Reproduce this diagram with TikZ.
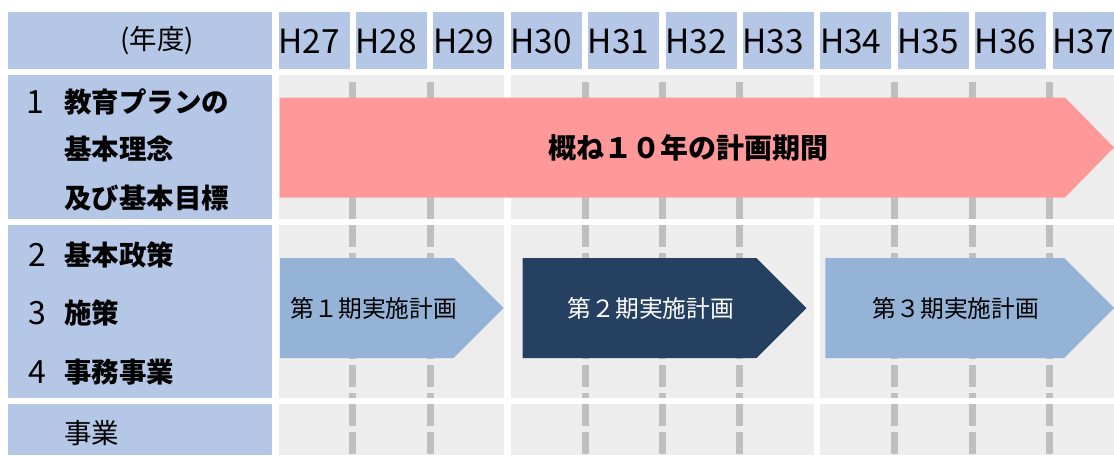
\documentclass[tikz,border=0pt]{standalone}
\usepackage{fontspec}
\setmainfont{Noto Sans CJK JP}
\usepackage{xcolor}
\usepackage{tikz}

\definecolor{headblue}{RGB}{180,199,231}
\definecolor{cellgray}{RGB}{237,237,237}
\definecolor{gridgray}{RGB}{191,191,191}
\definecolor{planred}{RGB}{255,153,153}
\definecolor{phaseblue}{RGB}{149,179,215}
\definecolor{phasenavy}{RGB}{37,64,97}

\begin{document}
\begin{tikzpicture}
[x=0.75pt,y=0.75pt,yscale=-1,xscale=1,
 headcell/.style={fill=headblue},
 graycell/.style={fill=cellgray},
 gridline/.style={draw=gridgray,line width=5.25pt},
 griddash/.style={gridline,dash pattern=on 16.5pt off 4.5pt},
 yearlbl/.style={font=\fontsize{25}{28}\selectfont,anchor=west,inner sep=0pt},
 rowlbl/.style={font=\fontsize{20.6}{24}\selectfont\bfseries,anchor=west,inner sep=0pt},
 rownum/.style={font=\fontsize{24}{27}\selectfont,inner sep=0pt},
 phasetext/.style={font=\fontsize{17.8}{21}\selectfont,inner sep=0pt}]
\useasboundingbox (0,0) rectangle (1114,455);

% header row
\fill [headcell] (8,12) rectangle (272,69);
\fill [headcell] (278.6,12) rectangle (349.6,69);
\fill [headcell] (356,12) rectangle (427,69);
\fill [headcell] (433.4,12) rectangle (504.4,69);
\fill [headcell] (510.8,12) rectangle (581.8,69);
\fill [headcell] (588.2,12) rectangle (659.2,69);
\fill [headcell] (665.6,12) rectangle (736.6,69);
\fill [headcell] (743,12) rectangle (814,69);
\fill [headcell] (820.4,12) rectangle (891.4,69);
\fill [headcell] (897.8,12) rectangle (968.8,69);
\fill [headcell] (975.2,12) rectangle (1046.2,69);
\fill [headcell] (1052.6,12) rectangle (1123.6,69);

% left column
\fill [headcell] (8,75) rectangle (272,219);
\fill [headcell] (8,225) rectangle (272,398);
\fill [headcell] (8,404) rectangle (272,455);

% period blocks
\fill [graycell] (278.6,75) rectangle (504.4,219);
\fill [graycell] (510.8,75) rectangle (814,219);
\fill [graycell] (820.4,75) rectangle (1114,219);
\fill [graycell] (278.6,225) rectangle (504.4,398);
\fill [graycell] (510.8,225) rectangle (814,398);
\fill [graycell] (820.4,225) rectangle (1114,398);
\fill [graycell] (278.6,404) rectangle (504.4,455);
\fill [graycell] (510.8,404) rectangle (814,455);
\fill [graycell] (820.4,404) rectangle (1114,455);

% year boundaries
\draw [gridline] (352.8,82) -- (352.8,219) (430.2,82) -- (430.2,219) (585,82) -- (585,219) (662.4,82) -- (662.4,219)
  (739.8,82) -- (739.8,219) (894.6,82) -- (894.6,219) (972,82) -- (972,219) (1049.4,82) -- (1049.4,219) ;
\draw [griddash] (352.8,225) -- (352.8,398) (430.2,225) -- (430.2,398) (585,225) -- (585,398) (662.4,225) -- (662.4,398)
  (739.8,225) -- (739.8,398) (894.6,225) -- (894.6,398) (972,225) -- (972,398) (1049.4,225) -- (1049.4,398) ;
\draw [griddash] (352.8,404) -- (352.8,455) (430.2,404) -- (430.2,455) (585,404) -- (585,455) (662.4,404) -- (662.4,455)
  (739.8,404) -- (739.8,455) (894.6,404) -- (894.6,455) (972,404) -- (972,455) (1049.4,404) -- (1049.4,455) ;

% arrows
\fill [planred] (279.6,97.5) -- (1065,97.5) -- (1114,147.5) -- (1065,197.5) -- (279.6,197.5) -- cycle ;
\fill [phaseblue] (280,258) -- (453.6,258) -- (503.6,308) -- (453.6,358) -- (280,358) -- cycle ;
\fill [phasenavy] (522.5,258) -- (756.5,258) -- (806.5,308) -- (756.5,358) -- (522.5,358) -- cycle ;
\fill [phaseblue] (825.4,258) -- (1064,258) -- (1114,308) -- (1064,358) -- (825.4,358) -- cycle ;

% texts
\node [font=\fontsize{20.6}{24}\selectfont] (nendo) at (157,41) {(年度)};
\node [yearlbl] (h27) at (278,41) {H27};
\node [yearlbl] (h28) at (355.4,41) {H28};
\node [yearlbl] (h29) at (432.8,41) {H29};
\node [yearlbl] (h30) at (510.2,41) {H30};
\node [yearlbl] (h31) at (587.6,41) {H31};
\node [yearlbl] (h32) at (665,41) {H32};
\node [yearlbl] (h33) at (742.4,41) {H33};
\node [yearlbl] (h34) at (819.8,41) {H34};
\node [yearlbl] (h35) at (897.2,41) {H35};
\node [yearlbl] (h36) at (974.6,41) {H36};
\node [yearlbl] (h37) at (1052,41) {H37};

\node [rownum] (num1) at (35,102) {1};
\node [rowlbl] (rinen1) at (64,102) {教育プランの};
\node [rowlbl] (rinen2) at (64,149) {基本理念};
\node [rowlbl] (rinen3) at (64,198) {及び基本目標};
\node [rownum] (num2) at (37,255) {2};
\node [rowlbl] (seisaku) at (64,255) {基本政策};
\node [rownum] (num3) at (37,313) {3};
\node [rowlbl] (shisaku) at (64,313) {施策};
\node [rownum] (num4) at (37,372) {4};
\node [rowlbl] (jimu) at (64,372) {事務事業};
\node [rowlbl,font=\fontsize{20.6}{24}\selectfont] (jigyo) at (64,433) {事業};

\node [font=\fontsize{21}{24}\selectfont\bfseries] (plan) at (688,147.5) {概ね１０年の計画期間};
\node [phasetext] (phase1) at (374,308) {第１期実施計画};
\node [phasetext,text=white] (phase2) at (651,308) {第２期実施計画};
\node [phasetext] (phase3) at (956,308) {第３期実施計画};

\end{tikzpicture}
\end{document}
